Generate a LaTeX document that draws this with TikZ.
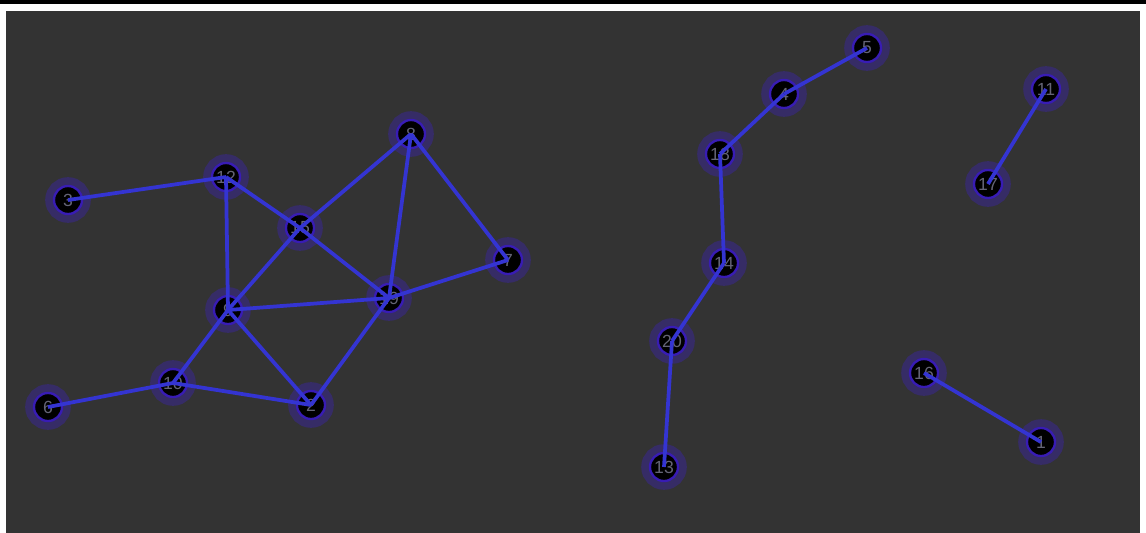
\documentclass[tikz,border=0pt]{standalone}
\usepackage{fontspec}
\usepackage{tikz}
\newfontfamily\labelfont{Liberation Sans}
\definecolor{canvas}{RGB}{51,51,51}
\definecolor{edgeblue}{RGB}{52,52,210}
\definecolor{halo}{RGB}{54,44,102}
\definecolor{ring}{RGB}{56,28,180}
\definecolor{labelgray}{RGB}{100,100,118}
\tikzset{
  vertex/.style={circle, fill=black, draw=ring, line width=2pt, minimum size=0.84cm, inner sep=0pt,
    text=labelgray, font=\labelfont\fontsize{15}{15}\selectfont,
    preaction={draw=halo, line width=15pt}},
  link/.style={draw=edgeblue, line width=3.2pt}
}
\begin{document}
\begin{tikzpicture}[x=0.03cm, y=-0.03cm]
			\useasboundingbox (0,0) rectangle (1146,533);
			\fill[white] (0,0) rectangle (1146,533);
			\fill[black] (0,0) rectangle (1146,3.5);
			\fill[canvas] (6,11) rectangle (1140,533);
			
			% left group
			\node[vertex] (v3) at (68,200) {3};
			\node[vertex] (v12) at (226,177) {12};
			\node[vertex] (v15) at (300,228) {15};
			\node[vertex] (v8) at (411,134) {8};
			\node[vertex] (v7) at (508,260) {7};
			\node[vertex] (v19) at (389,298) {19};
			\node[vertex] (v9) at (228,310) {9};
			\node[vertex] (v10) at (173,383) {10};
			\node[vertex] (v2) at (311,405) {2};
			\node[vertex] (v6) at (48,407) {6};
			
			% middle chain
			\node[vertex] (v5) at (867,48) {5};
			\node[vertex] (v4) at (784,94) {4};
			\node[vertex] (v18) at (720,154) {18};
			\node[vertex] (v14) at (724,263) {14};
			\node[vertex] (v20) at (672,341) {20};
			\node[vertex] (v13) at (664,467) {13};
			
			% right pairs
			\node[vertex] (v11) at (1046,89) {11};
			\node[vertex] (v17) at (988,184) {17};
			\node[vertex] (v16) at (924,373) {16};
			\node[vertex] (v1) at (1041,442) {1};
			
			\draw[link] (v3.center) -- (v12.center);
			\draw[link] (v12.center) -- (v9.center);
			\draw[link] (v12.center) -- (v15.center);
			\draw[link] (v15.center) -- (v19.center);
			\draw[link] (v8.center) -- (v15.center);
			\draw[link] (v15.center) -- (v9.center);
			\draw[link] (v8.center) -- (v19.center);
			\draw[link] (v8.center) -- (v7.center);
			\draw[link] (v19.center) -- (v7.center);
			\draw[link] (v9.center) -- (v19.center);
			\draw[link] (v9.center) -- (v10.center);
			\draw[link] (v9.center) -- (v2.center);
			\draw[link] (v19.center) -- (v2.center);
			\draw[link] (v10.center) -- (v2.center);
			\draw[link] (v6.center) -- (v10.center);
			
			\draw[link] (v5.center) -- (v4.center);
			\draw[link] (v4.center) -- (v18.center);
			\draw[link] (v18.center) -- (v14.center);
			\draw[link] (v14.center) -- (v20.center);
			\draw[link] (v20.center) -- (v13.center);
			
			\draw[link] (v11.center) -- (v17.center);
			\draw[link] (v16.center) -- (v1.center);
		\end{tikzpicture}
\end{document}
